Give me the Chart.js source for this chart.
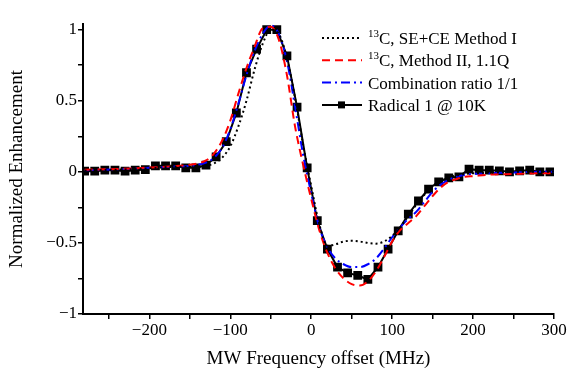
<!DOCTYPE html>
<html>
<head>
<meta charset="utf-8">
<script src="https://cdn.jsdelivr.net/npm/chart.js@4.4.1/dist/chart.umd.min.js"></script>
<style>
  html, body { margin: 0; padding: 0; background: #fff; }
  #wrap { position: relative; width: 569px; height: 372px; }
</style>
</head>
<body>
<div id="wrap"><canvas id="dnpChart" width="569" height="372"></canvas></div>
<script>
// smooth simulated curves share one frequency grid (MHz)
const curveFreqs = [-280, -240, -200, -170, -150, -140, -130, -120, -110, -100, -90, -80, -70, -60, -50, -40, -30, -20, -10, 0,
  10, 20, 30, 40, 50, 60, 70, 80, 90, 100, 110, 120, 130, 140, 150, 160, 170, 180, 190, 200, 220, 250, 280, 300];
const methodIValues = [0.01, 0.015, 0.025, 0.035, 0.035, 0.037, 0.042, 0.06, 0.10, 0.18, 0.32, 0.50, 0.72, 0.90, 1.0, 0.97, 0.80, 0.52, 0.19, -0.10,
  -0.37, -0.52, -0.51, -0.49, -0.485, -0.49, -0.50, -0.505, -0.49, -0.45, -0.39, -0.31, -0.23, -0.16, -0.10, -0.065, -0.04, -0.025, -0.015, -0.01, -0.005, 0, 0, 0];
const methodIIValues = [0.015, 0.02, 0.03, 0.04, 0.05, 0.06, 0.08, 0.13, 0.22, 0.36, 0.55, 0.73, 0.88, 1.01, 1.02, 0.93, 0.68, 0.32, 0.05, -0.19,
  -0.41, -0.57, -0.68, -0.75, -0.79, -0.80, -0.77, -0.70, -0.60, -0.49, -0.41, -0.36, -0.31, -0.24, -0.17, -0.11, -0.07, -0.05, -0.035, -0.03, -0.02, -0.015, -0.01, -0.01];
const comboValues = [0.012, 0.018, 0.028, 0.038, 0.042, 0.05, 0.065, 0.10, 0.17, 0.30, 0.48, 0.68, 0.85, 0.97, 1.03, 0.97, 0.78, 0.46, 0.12, -0.15,
  -0.39, -0.53, -0.61, -0.65, -0.67, -0.67, -0.65, -0.61, -0.54, -0.46, -0.39, -0.33, -0.28, -0.21, -0.14, -0.09, -0.055, -0.035, -0.02, -0.015, -0.01, -0.005, 0, 0];

// measured radical profile
const radicalFreqs = [-280, -267.5, -255, -242.5, -230, -217.5, -205, -192.5, -180, -167.5, -155, -142.5, -130, -117.5, -105, -92.5,
  -80, -67.5, -55, -42.5, -30, -17.5, -5, 7.5, 20, 32.5, 45, 57.5, 70, 82.5, 95, 107.5, 120, 132.5, 145, 157.5,
  170, 182.5, 195, 207.5, 220, 232.5, 245, 257.5, 270, 282.5, 295];
const radicalValues = [0.005, 0.005, 0.012, 0.012, 0.005, 0.012, 0.016, 0.042, 0.042, 0.042, 0.028, 0.028, 0.047, 0.105, 0.212, 0.414,
  0.697, 0.863, 1.0, 1.0, 0.816, 0.455, 0.028, -0.343, -0.543, -0.671, -0.711, -0.729, -0.757, -0.671, -0.543, -0.415, -0.298, -0.205, -0.121, -0.07,
  -0.042, -0.035, 0.019, 0.012, 0.012, 0.007, 0.0, 0.007, 0.012, 0.0, 0.0];

const xTicks = [-250, -200, -150, -100, -50, 0, 50, 100, 150, 200, 250, 300];
const xLabelled = [-200, -100, 0, 100, 200, 300];
const yTicks = [-1, -0.75, -0.5, -0.25, 0, 0.25, 0.5, 0.75, 1];
const yLabelled = [-1, -0.5, 0, 0.5, 1];

const keySup = ['13', '13', '', ''];
const keyText = ['C, SE+CE Method I', 'C, Method II, 1.1Q', 'Combination ratio 1/1', 'Radical 1 @ 10K'];

const SERIF = '"Liberation Serif", "Times New Roman", serif';

function pts(xs, ys) {
  return xs.map((x, i) => ({ x: x, y: ys[i] }));
}
function minus(v) {
  return String(v).replace('-', '\u2212');
}

// legend drawn by hand so the 13 can sit as a superscript
const keyPlugin = {
  id: 'seriesKey',
  afterDraw(chart) {
    const ctx = chart.ctx;
    ctx.save();
    chart.data.datasets.forEach((ds, i) => {
      const y = 38 + i * 22.3;
      ctx.strokeStyle = ds.borderColor;
      ctx.lineWidth = ds.borderWidth;
      ctx.setLineDash(ds.borderDash || []);
      ctx.beginPath();
      ctx.moveTo(322, y);
      ctx.lineTo(362, y);
      ctx.stroke();
      ctx.setLineDash([]);
      if (ds.pointRadius > 0) {
        ctx.fillStyle = ds.borderColor;
        ctx.fillRect(338, y - 3.5, 7, 7);
      }
      let x = 368;
      ctx.fillStyle = '#000';
      ctx.textBaseline = 'alphabetic';
      if (keySup[i]) {
        ctx.font = '11px ' + SERIF;
        ctx.fillText(keySup[i], x, y - 1);
        x += ctx.measureText(keySup[i]).width;
      }
      ctx.font = '17px ' + SERIF;
      ctx.fillText(keyText[i], x, y + 6);
    });
    ctx.restore();
  }
};

const ctx = document.getElementById('dnpChart').getContext('2d');
new Chart(ctx, {
  type: 'line',
  data: {
    datasets: [
      { label: keyText[0], data: pts(curveFreqs, methodIValues), borderColor: '#000', borderWidth: 2, borderDash: [2, 3],
        pointRadius: 0, cubicInterpolationMode: 'monotone', fill: false },
      { label: keyText[1], data: pts(curveFreqs, methodIIValues), borderColor: '#ff0000', borderWidth: 2, borderDash: [8, 5],
        pointRadius: 0, cubicInterpolationMode: 'monotone', fill: false },
      { label: keyText[2], data: pts(curveFreqs, comboValues), borderColor: '#0000ff', borderWidth: 2, borderDash: [9, 4, 2, 4],
        pointRadius: 0, cubicInterpolationMode: 'monotone', fill: false },
      { label: keyText[3], data: pts(radicalFreqs, radicalValues), borderColor: '#000', backgroundColor: '#000', borderWidth: 2,
        pointStyle: 'rect', pointRadius: 4.8, tension: 0, fill: false }
    ]
  },
  options: {
    responsive: false,
    animation: false,
    layout: { padding: { top: 24, right: 15, bottom: 0, left: 6 } },
    plugins: { legend: { display: false }, tooltip: { enabled: false } },
    scales: {
      x: {
        type: 'linear',
        min: -282,
        max: 300,
        afterBuildTicks: s => { s.ticks = xTicks.map(v => ({ value: v })); },
        afterFit: s => { s.height = 58; },
        grid: { drawOnChartArea: false, color: '#000', lineWidth: 1.5, tickLength: 5 },
        border: { color: '#000', width: 2 },
        ticks: {
          color: '#000',
          font: { family: SERIF, size: 17 },
          maxRotation: 0,
          padding: 1,
          callback: v => xLabelled.includes(v) ? minus(v) : ''
        },
        title: { display: true, text: 'MW Frequency offset (MHz)', color: '#000',
          font: { family: SERIF, size: 19 }, padding: { top: 0, bottom: 2 } }
      },
      y: {
        min: -1,
        max: 1.04,
        afterBuildTicks: s => { s.ticks = yTicks.map(v => ({ value: v })); },
        afterFit: s => { s.width = 77; },
        grid: { drawOnChartArea: false, color: '#000', lineWidth: 1.5, tickLength: 5 },
        border: { color: '#000', width: 2 },
        ticks: {
          color: '#000',
          font: { family: SERIF, size: 17 },
          padding: 1,
          callback: v => yLabelled.includes(v) ? minus(v) : ''
        },
        title: { display: true, text: 'Normalized Enhancement', color: '#000',
          font: { family: SERIF, size: 19 }, padding: { top: 0, bottom: 4 } }
      }
    }
  },
  plugins: [keyPlugin]
});
</script>
</body>
</html>
